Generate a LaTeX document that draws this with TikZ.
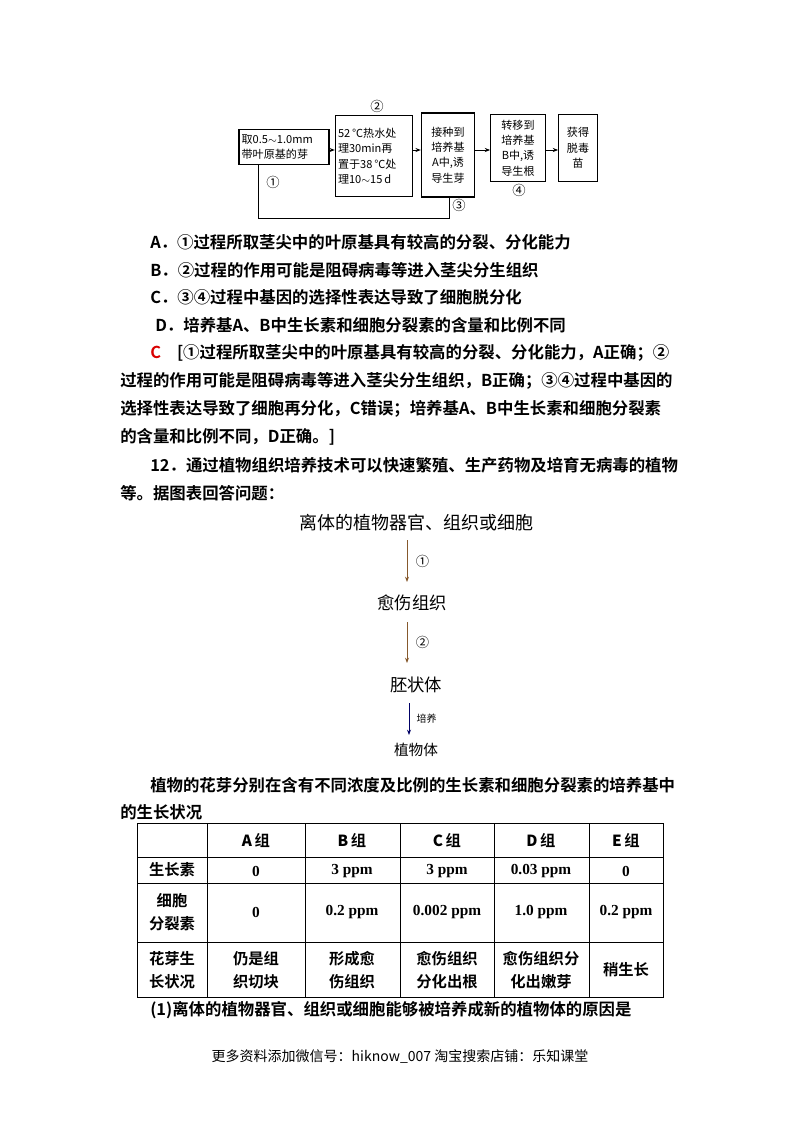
\documentclass[tikz,border=0pt]{standalone}
\usepackage{fontspec}
\setmainfont{Liberation Serif}
\newfontfamily\cjk{Noto Sans CJK SC}
\newfontfamily\cjkb{Noto Sans CJK SC Bold}
\usetikzlibrary{arrows.meta}
\begin{document}
\begin{tikzpicture}[x=0.75pt,y=-0.75pt,
  fb/.style={draw,line width=0.8pt,inner sep=2pt,font=\cjk\fontsize{8.3}{11.5}\selectfont,align=left},
  fa/.style={-{Stealth[length=4pt]},line width=0.6pt},
  txt/.style={anchor=west,inner sep=0pt,font=\cjkb\fontsize{12.3}{14}\selectfont},
  mid/.style={inner sep=1pt,font=\cjk\fontsize{13}{15}\selectfont},
  va/.style={-{Stealth[length=4pt]},line width=0.7pt,draw=brown!70!black},
  cell/.style={font=\cjkb\fontsize{11.5}{17}\selectfont,align=center,inner sep=0pt}]
\useasboundingbox (0,0) rectangle (800,1132);
\fill[white] (0,0) rectangle (800,1132);
% flowchart
\node[fb,text width=63.5pt,minimum height=26pt] (b1) at (284,147) {取0.5$\sim$1.0mm\\带叶原基的芽};
\node[fb,text width=54pt,minimum height=61pt] (b2) at (374,156) {52\,℃热水处\\理30min再\\置于38\,℃处\\理10$\sim$15\,d};
\node[fb,text width=36pt,align=center,minimum height=63pt] (b3) at (448,155) {接种到\\培养基\\A中,诱\\导生芽};
\node[fb,text width=37pt,align=center,minimum height=50pt] (b4) at (518,148) {转移到\\培养基\\B中,诱\\导生根};
\node[fb,text width=25pt,align=center,minimum height=50pt] (b5) at (578,148) {获得\\脱毒\\苗};
\draw[fa] (b1.east|-0,150) -- (b2.west|-0,150);
\draw[fa] (b2.east|-0,150) -- (b3.west|-0,150);
\draw[fa] (b3.east|-0,150) -- (b4.west|-0,150);
\draw[fa] (b4.east|-0,150) -- (b5.west|-0,150);
\coordinate (l1) at (258,218); \coordinate (l2) at (449,218);
\draw[line width=0.6pt] (b1.south-|l1) -- (l1) -- (l2) -- (b3.south-|l2);
\node[font=\cjk\fontsize{10}{12}\selectfont] (n1) at (273,182) {①};
\node[font=\cjk\fontsize{10}{12}\selectfont] (n2) at (377,106) {②};
\node[font=\cjk\fontsize{10}{12}\selectfont] (n3) at (459,205) {③};
\node[font=\cjk\fontsize{10}{12}\selectfont] (n4) at (519,190) {④};
% options
\node[txt] (oa) at (150,242) {A．①过程所取茎尖中的叶原基具有较高的分裂、分化能力};
\node[txt] (ob) at (150,270) {B．②过程的作用可能是阻碍病毒等进入茎尖分生组织};
\node[txt] (oc) at (150,297) {C．③④过程中基因的选择性表达导致了细胞脱分化};
\node[txt] (od) at (155,325) {D．培养基A、B中生长素和细胞分裂素的含量和比例不同};
\node[txt] (p1) at (150,353) {{\color{red!85!black}C}\hspace{12pt}[①过程所取茎尖中的叶原基具有较高的分裂、分化能力，A正确；②};
\node[txt] (p2) at (120,381) {过程的作用可能是阻碍病毒等进入茎尖分生组织，B正确；③④过程中基因的};
\node[txt] (p3) at (120,409) {选择性表达导致了细胞再分化，C错误；培养基A、B中生长素和细胞分裂素};
\node[txt] (p4) at (120,437) {的含量和比例不同，D正确。]};
\node[txt] (q1) at (150,465) {12．通过植物组织培养技术可以快速繁殖、生产药物及培育无病毒的植物};
\node[txt] (q2) at (120,493) {等。据图表回答问题：};
% middle flow
\node[mid,font=\cjk\fontsize{13.5}{15}\selectfont] (m1) at (416,523) {离体的植物器官、组织或细胞};
\node[mid] (m2) at (412,603) {愈伤组织};
\node[mid] (m3) at (416,685) {胚状体};
\node[mid,font=\cjk\fontsize{11}{13}\selectfont] (m4) at (416,750) {植物体};
\draw[va] (407,540) -- (407,582) node[midway,right=3pt,font=\cjk\fontsize{10}{12}\selectfont,text=black] (c1) {①};
\draw[va] (407,622) -- (407,663) node[midway,right=3pt,font=\cjk\fontsize{10}{12}\selectfont,text=black] (c2) {②};
\draw[va,draw=blue!40!black] (409,703) -- (409,735) node[midway,right=2pt,font=\cjk\fontsize{7.5}{9}\selectfont,text=black] (c3) {培养};
\node[txt] (r1) at (150,785) {植物的花芽分别在含有不同浓度及比例的生长素和细胞分裂素的培养基中};
\node[txt] (r2) at (120,812) {的生长状况};
% table
\draw[line width=0.7pt] (137,823) rectangle (663,997);
\foreach \y in {857,883,942} \draw[line width=0.7pt] (137,\y) -- (663,\y);
\foreach \x in {207,305,400,494,589} \draw[line width=0.7pt] (\x,823) -- (\x,997);
\foreach \t/\x in {A/256,B/352,C/447,D/541,E/626} \node[cell] at (\x,840) {\textbf{\t}\,组};
\node[cell] (h1) at (172,870) {生长素};
\node[cell] (h2) at (172,912) {细胞\\分裂素};
\node[cell] (h3) at (172,970) {花芽生\\长状况};
\foreach \t/\x in {0/256,3 ppm/352,3 ppm/447,0.03 ppm/541,0/626} \node[cell,font=\bfseries\fontsize{11.5}{14}\selectfont] at (\x,871) {\t};
\foreach \t/\x in {0/256,0.2 ppm/352,0.002 ppm/447,1.0 ppm/541,0.2 ppm/626} \node[cell,font=\bfseries\fontsize{11.5}{14}\selectfont] at (\x,912) {\t};
\node[cell] at (256,970) {仍是组\\织切块};
\node[cell] at (352,970) {形成愈\\伤组织};
\node[cell] at (447,970) {愈伤组织\\分化出根};
\node[cell] at (541,970) {愈伤组织分\\化出嫩芽};
\node[cell] at (626,970) {稍生长};
\node[txt] (s1) at (150,1010) {(1)离体的植物器官、组织或细胞能够被培养成新的植物体的原因是};
\node[font=\cjk\fontsize{10.5}{12}\selectfont] (ft) at (400,1057) {更多资料添加微信号：hiknow\_007 淘宝搜索店铺：乐知课堂};
\end{tikzpicture}
\end{document}
